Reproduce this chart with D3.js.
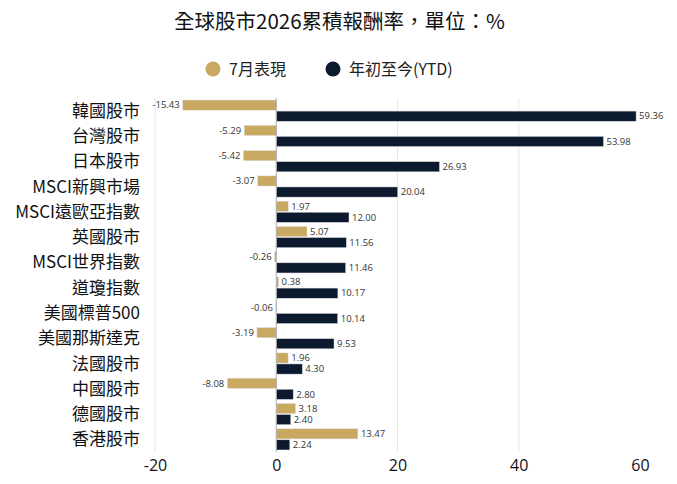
<!DOCTYPE html>
<html>
<head>
<meta charset="utf-8">
<script src="https://cdn.jsdelivr.net/npm/d3@7/dist/d3.min.js"></script>
<style>
  body { margin: 0; background: #fff; }
  text { font-family: "Open Sans", "Noto Sans CJK TC", sans-serif; }
  .cjk { font-family: "Noto Sans CJK TC", sans-serif; }
</style>
</head>
<body>
<script>
var w = 677;
var h = 484;

var categories = ["韓國股市", "台灣股市", "日本股市", "MSCI新興市場", "MSCI遠歐亞指數", "英國股市",
    "MSCI世界指數", "道瓊指數", "美國標普500", "美國那斯達克", "法國股市", "中國股市", "德國股市", "香港股市"];
var july = [-15.43, -5.29, -5.42, -3.07, 1.97, 5.07, -0.26, 0.38, -0.06, -3.19, 1.96, -8.08, 3.18, 13.47];
var ytd = [59.36, 53.98, 26.93, 20.04, 12.00, 11.56, 11.46, 10.17, 10.14, 9.53, 4.30, 2.80, 2.40, 2.24];
var seriesNames = ["7月表現", "年初至今(YTD)"];
var colors = ["#C9A862", "#0C1A30"];
var xTicks = [-20, 0, 20, 40, 60];

var margin = {top: 98, right: 37, bottom: 32, left: 155};
var pw = w - margin.left - margin.right;
var ph = h - margin.top - margin.bottom;

var rows = categories.map(function (c, i) {
    return {cat: c, vals: [july[i], ytd[i]]};
});

var svg = d3.select("body")
    .append("svg")
    .attr("width", w)
    .attr("height", h);

// title
svg.append("text")
    .attr("class", "cjk")
    .attr("x", w / 2 + 1)
    .attr("y", 29)
    .attr("text-anchor", "middle")
    .style("font-size", "20.5px")
    .style("fill", "#111")
    .text("全球股市2026累積報酬率，單位：%");

// legend
var legendX = [213, 333];
seriesNames.forEach(function (name, i) {
    var g = svg.append("g").attr("transform", "translate(" + legendX[i] + ",69)");
    g.append("circle").attr("r", 7.5).attr("fill", colors[i]);
    g.append("text")
        .attr("class", "cjk")
        .attr("x", 16)
        .attr("y", 6)
        .style("font-size", "16px")
        .style("fill", "#222")
        .text(name);
});

var x = d3.scaleLinear().domain([-20, 60]).range([0, pw]);
var y = d3.scaleBand().domain(categories).range([0, ph]).paddingInner(0.16).paddingOuter(0.08);
var ySub = d3.scaleBand().domain([0, 1]).range([0, y.bandwidth()]).paddingInner(0.08);

var plot = svg.append("g")
    .attr("transform", "translate(" + margin.left + "," + margin.top + ")");

// gridlines (skip zero and the right edge)
plot.selectAll("line.grid")
    .data(xTicks.filter(function (d) { return d !== 0 && d !== 60; }))
    .enter()
    .append("line")
    .attr("class", "grid")
    .attr("x1", function (d) { return x(d); })
    .attr("x2", function (d) { return x(d); })
    .attr("y1", 0)
    .attr("y2", ph)
    .attr("stroke", "#e6e6e6")
    .attr("stroke-width", 1);

var groups = plot.selectAll("g.row")
    .data(rows)
    .enter()
    .append("g")
    .attr("class", "row")
    .attr("transform", function (d) { return "translate(0," + y(d.cat) + ")"; });

groups.selectAll("rect")
    .data(function (d) { return d.vals.map(function (v, i) { return {v: v, s: i}; }); })
    .enter()
    .append("rect")
    .attr("x", function (d) { return x(Math.min(0, d.v)); })
    .attr("y", function (d) { return ySub(d.s); })
    .attr("width", function (d) { return Math.abs(x(d.v) - x(0)); })
    .attr("height", ySub.bandwidth())
    .attr("fill", function (d) { return colors[d.s]; })
    .attr("stroke", "#e0e0e0")
    .attr("stroke-width", 0.5);

groups.selectAll("text.val")
    .data(function (d) { return d.vals.map(function (v, i) { return {v: v, s: i}; }); })
    .enter()
    .append("text")
    .attr("class", "val")
    .attr("x", function (d) { return d.v < 0 ? x(d.v) - 3 : x(d.v) + 3; })
    .attr("y", function (d) { return ySub(d.s) + ySub.bandwidth() / 2; })
    .attr("dy", "0.35em")
    .attr("text-anchor", function (d) { return d.v < 0 ? "end" : "start"; })
    .style("font-size", "9.5px")
    .style("fill", "#333")
    .text(function (d) { return d.v.toFixed(2); });

// zero line
plot.append("line")
    .attr("x1", x(0))
    .attr("x2", x(0))
    .attr("y1", 0)
    .attr("y2", ph)
    .attr("stroke", "#aaa")
    .attr("stroke-width", 1);

// y axis labels
plot.selectAll("text.cat")
    .data(categories)
    .enter()
    .append("text")
    .attr("class", "cjk")
    .attr("x", -15)
    .attr("y", function (d) { return y(d) + y.bandwidth() / 2; })
    .attr("dy", "0.36em")
    .attr("text-anchor", "end")
    .style("font-size", "17px")
    .style("fill", "#111")
    .text(function (d) { return d; });

// x axis
var xAxis = plot.append("g")
    .attr("transform", "translate(0," + ph + ")")
    .call(d3.axisBottom(x).tickValues(xTicks).tickSize(0).tickPadding(8)
        .tickFormat(function (d) { return String(d); }));
xAxis.select(".domain").remove();
xAxis.selectAll("text")
    .style("font-size", "16px")
    .style("font-family", "'Open Sans', sans-serif")
    .style("fill", "#111");
</script>
</body>
</html>
